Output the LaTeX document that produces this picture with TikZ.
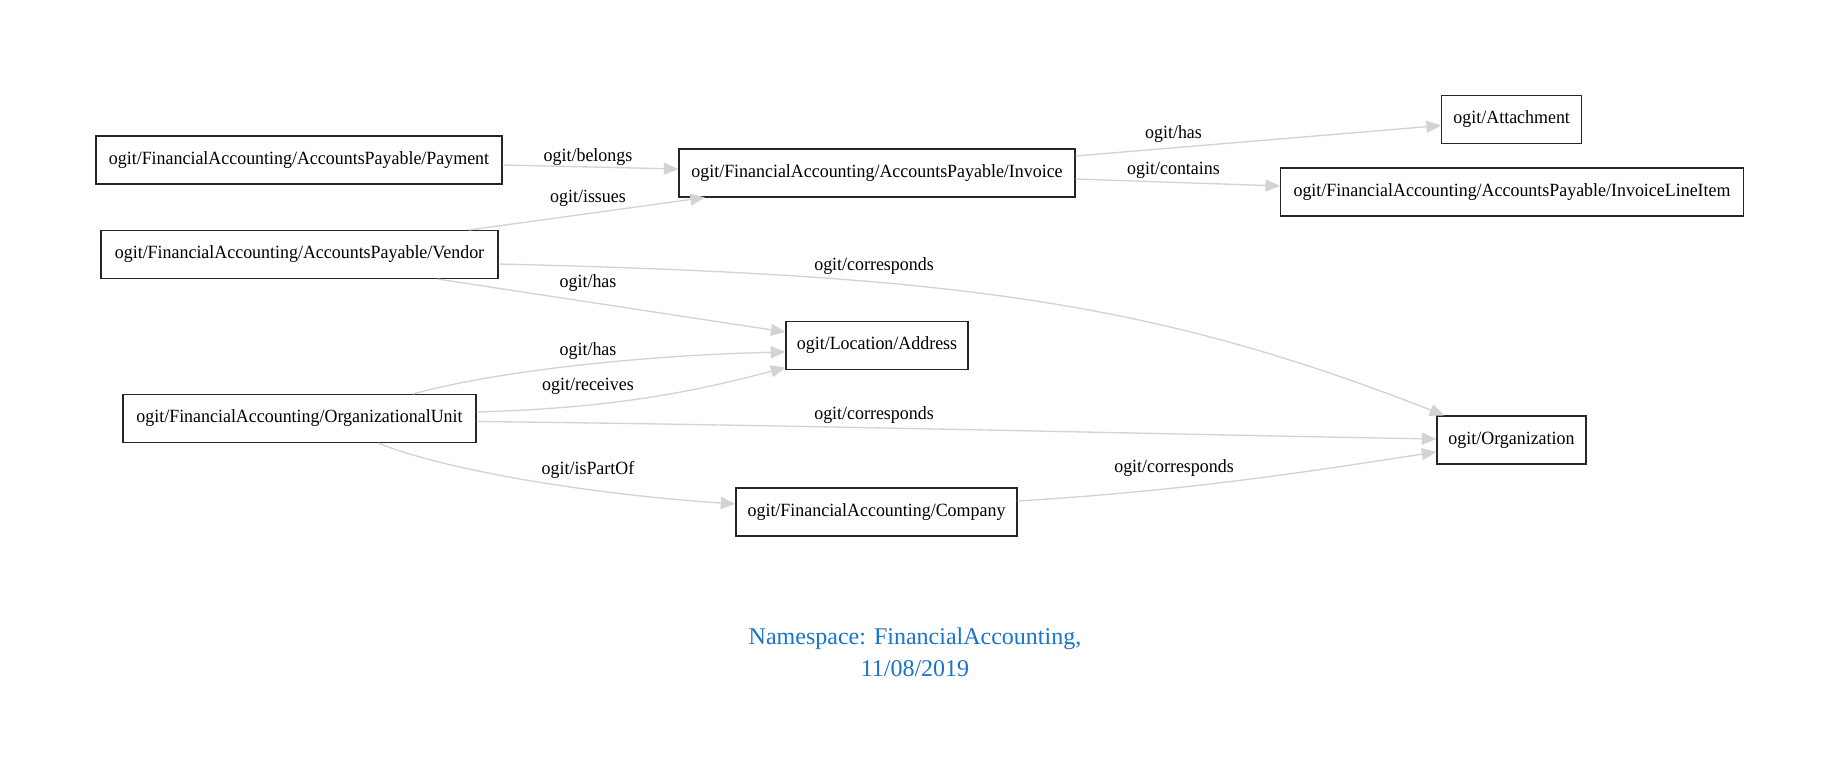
\documentclass[tikz,border=0pt]{standalone}
\usepackage{fontspec}
\setmainfont{Liberation Serif}
\newfontfamily\gvfont[FakeStretch=0.96]{Liberation Serif}
\usetikzlibrary{arrows.meta,calc}
\definecolor{edgegray}{HTML}{D3D3D3}
\definecolor{titleblue}{HTML}{1874CD}
\begin{document}
\begin{tikzpicture}[x=0.75pt,y=-0.75pt,
  ent/.style={draw=black!85, line width=0.8pt, minimum height=36pt, inner sep=0pt, font=\gvfont\fontsize{14}{16}\selectfont},
  rel/.style={draw=edgegray, line width=1pt, -{Triangle[length=11pt,width=9pt]}},
  lbl/.style={font=\gvfont\fontsize{14}{16}\selectfont, inner sep=0pt}]
\fill[white] (0,0) rectangle (1840,780);
\useasboundingbox (0,0) rectangle (1840,780);
% entities
\node[ent, minimum width=304.5pt] (pay) at (299,160) {ogit/FinancialAccounting/AccountsPayable/Payment};
\node[ent, minimum width=297.75pt] (ven) at (299.5,254.5) {ogit/FinancialAccounting/AccountsPayable/Vendor};
\node[ent, minimum width=297pt] (inv) at (877,173) {ogit/FinancialAccounting/AccountsPayable/Invoice};
\node[ent, minimum width=105pt] (att) at (1511.7,119.5) {ogit/Attachment};
\node[ent, minimum width=347pt] (ili) at (1512,192) {ogit/FinancialAccounting/AccountsPayable/InvoiceLineItem};
\node[ent, minimum width=136.5pt] (addr) at (877,345.5) {ogit/Location/Address};
\node[ent, minimum width=264.75pt] (ou) at (299.5,418.5) {ogit/FinancialAccounting/OrganizationalUnit};
\node[ent, minimum width=111.75pt] (org) at (1511.5,440) {ogit/Organization};
\node[ent, minimum width=210.75pt] (comp) at (876.5,512) {ogit/FinancialAccounting/Company};
% edges
\draw[rel] ($(pay.east)+(0,5)$) -- ($(inv.west)+(0,-4)$);
\node[lbl] (l1) at (588,157) {ogit/belongs};
\draw[rel] ($(ven.north)+(169.5,0)$) -- ($(inv.south)+(-172,0)$);
\node[lbl] (l2) at (588,198) {ogit/issues};
\draw[rel] ($(inv.east)+(0,-17)$) -- ($(att.west)+(0,6)$);
\node[lbl] (l3) at (1173.5,134) {ogit/has};
\draw[rel] ($(inv.east)+(0,6)$) -- ($(ili.west)+(0,-6)$);
\node[lbl] (l4) at (1173.5,170) {ogit/contains};
\draw[rel] ($(ven.east)+(0,9.5)$) .. controls (950,275) and (1150,300) .. ($(org.north west)+(8,0)$);
\node[lbl] (l5) at (874,266) {ogit/corresponds};
\draw[rel] ($(ven.south)+(138,0)$) -- ($(addr.west)+(0,-13.5)$);
\node[lbl] (l6) at (588,283) {ogit/has};
\draw[rel] ($(ou.north)+(113.5,0)$) .. controls (500,370) and (650,355) .. ($(addr.west)+(0,6.5)$);
\node[lbl] (l7) at (588,351) {ogit/has};
\draw[rel] ($(ou.east)+(0,-6.5)$) .. controls (620,408) and (700,390) .. ($(addr.west)+(0,22)$);
\node[lbl] (l8) at (588,386) {ogit/receives};
\draw[rel] ($(ou.east)+(0,3)$) .. controls (800,425) and (1200,435) .. ($(org.west)+(0,-1)$);
\node[lbl] (l9) at (874,415) {ogit/corresponds};
\draw[rel] ($(ou.south)+(78.5,0)$) .. controls (450,472) and (600,495) .. ($(comp.west)+(0,-8)$);
\node[lbl] (l10) at (588,470) {ogit/isPartOf};
\draw[rel] ($(comp.east)+(0,-11)$) .. controls (1200,490) and (1330,468) .. ($(org.west)+(0,12)$);
\node[lbl] (l11) at (1174,468) {ogit/corresponds};
% title
\node[font=\fontsize{18}{24}\selectfont, text=titleblue, align=center] (title) at (915,652) {Namespace: FinancialAccounting,\\11/08/2019};
\end{tikzpicture}
\end{document}
